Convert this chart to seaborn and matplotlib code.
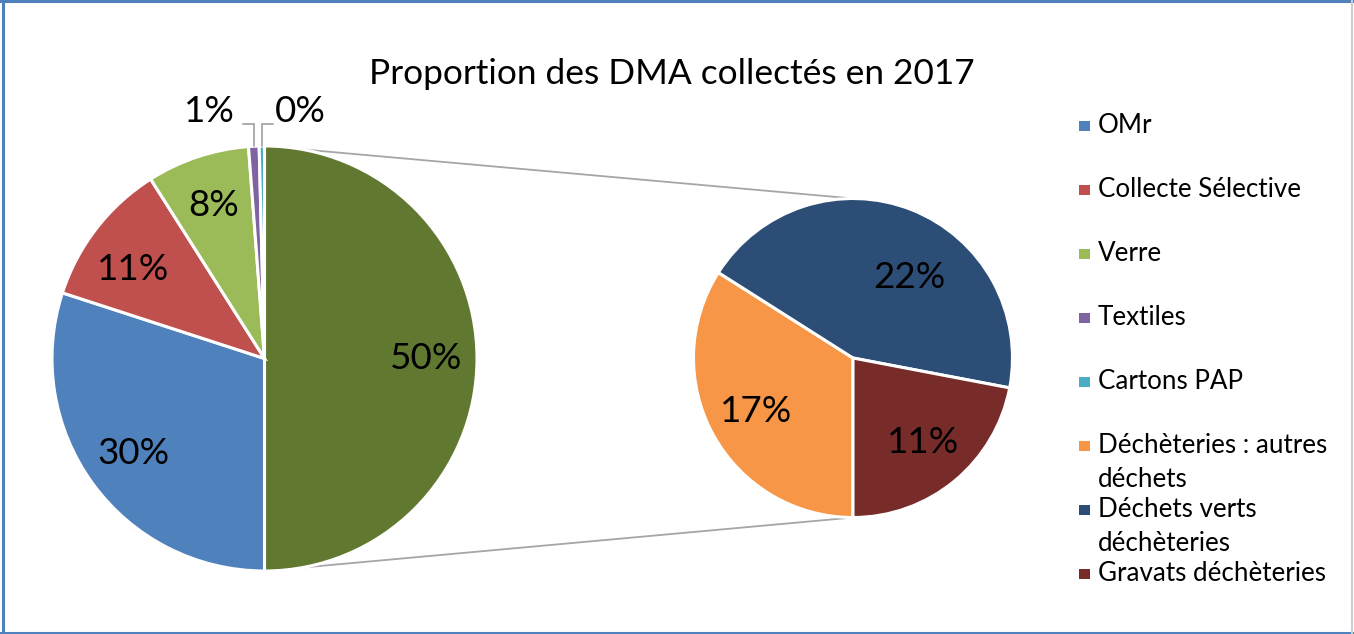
import matplotlib
matplotlib.use("Agg")
import matplotlib.pyplot as plt
import seaborn as sns
import numpy as np
from matplotlib.patches import Rectangle

# ---------------- data ----------------
main_categories = ["Déchèteries (total)", "OMr", "Collecte Sélective", "Verre", "Textiles", "Cartons PAP"]
main_values = [50.0, 30.0, 11.0, 7.8, 0.8, 0.4]
sub_categories = ["Déchèteries : autres déchets", "Déchets verts déchèteries", "Gravats déchèteries"]
sub_values = [17.0, 22.0, 11.0]
legend_labels = ["OMr", "Collecte Sélective", "Verre", "Textiles", "Cartons PAP",
                 "Déchèteries : autres\ndéchets", "Déchets verts\ndéchèteries", "Gravats déchèteries"]
title_text = "Proportion des DMA collectés en 2017"

# ---------------- style ----------------
main_colors = ["#617830", "#4F81BD", "#C0504D", "#9BBB59", "#8064A2", "#4BACC6"]
sub_colors = ["#F79646", "#2C4D75", "#772C2A"]
legend_colors = main_colors[1:] + sub_colors

W, H = 1354, 634
sns.set_theme(style="white")
plt.rcParams["font.family"] = ["Lato", "DejaVu Sans"]

fig = plt.figure(figsize=(W / 100, H / 100), dpi=100)
fig.patch.set_facecolor("white")
ax = fig.add_axes([0, 0, 1, 1])


def Y(y):
    return H - y


def fit_size(text, target_px, base=20.0):
    t = fig.text(0, 0, text, fontsize=base)
    r = fig.canvas.get_renderer()
    w = t.get_window_extent(r).width
    t.remove()
    return base * target_px / w


pct_fs = fit_size("50%", 72)
title_fs = fit_size(title_text, 606)
leg_fs = fit_size("Collecte Sélective", 204)

total = sum(main_values)
sub_total = sum(sub_values)

main_c = (264.5, Y(358.5))
main_r = 212.5
sub_c = (853.0, Y(358.0))
sub_r = 159.5
wedge_kw = dict(edgecolor="white", linewidth=2.2)

# connector lines (behind pies)
ax.plot([main_c[0], sub_c[0]], [main_c[1] + main_r, sub_c[1] + sub_r],
        color="#A6A6A6", lw=1.3, zorder=0, solid_capstyle="butt")
ax.plot([main_c[0], sub_c[0]], [main_c[1] - main_r, sub_c[1] - sub_r],
        color="#A6A6A6", lw=1.3, zorder=0, solid_capstyle="butt")

mw, mt, ma = ax.pie(main_values, colors=main_colors, startangle=90, counterclock=False,
                    center=main_c, radius=main_r, autopct=lambda p: f"{p:.0f}%",
                    pctdistance=0.76, wedgeprops=wedge_kw, frame=True,
                    textprops=dict(fontsize=pct_fs, color="black"))
for t in mt:
    t.set_visible(False)

sw, st, sa = ax.pie(sub_values, colors=sub_colors, startangle=-90, counterclock=False,
                    center=sub_c, radius=sub_r,
                    autopct=lambda p: f"{p * sub_total / total:.0f}%",
                    pctdistance=0.69, wedgeprops=wedge_kw, frame=True,
                    textprops=dict(fontsize=pct_fs, color="black"))
for t in st:
    t.set_visible(False)

# Excel "best fit" nudges
x, y = sa[1].get_position()
sa[1].set_position((x + 16, y - 22))
x, y = ma[2].get_position()
ma[2].set_position((x - 4, y - 10))

# tiny slices: labels outside with elbow leader lines
small = [i for i, v in enumerate(main_values) if v < 1]
for k, i in enumerate(small):
    w = mw[i]
    th = np.deg2rad((w.theta1 + w.theta2) / 2)
    px = main_c[0] + main_r * np.cos(th)
    py = main_c[1] + main_r * np.sin(th)
    side = -1 if k == 0 else 1
    ly = py + 22
    ex = px + side * 11
    ax.plot([px, px, ex], [py, ly, ly], color="#A6A6A6", lw=1.3, zorder=3,
            solid_joinstyle="miter")
    lab = ma[i]
    lab.set_position((ex + side * (8 if side < 0 else 2), ly + 13))
    lab.set_ha("right" if side < 0 else "left")
    lab.set_va("center")

ax.set_xlim(0, W)
ax.set_ylim(0, H)
ax.set_aspect("equal")
ax.axis("off")

# title
ax.text(672, Y(84), title_text, ha="center", va="baseline", fontsize=title_fs, color="black")

# legend (Excel-like: fixed row pitch, wrapped labels)
first_base = 133
step = 64.0
pitch = 34.0
for i, (lab, col) in enumerate(zip(legend_labels, legend_colors)):
    base = first_base + i * step
    ax.add_patch(Rectangle((1079, Y(base - 2)), 10.5, 10.5, facecolor=col,
                           edgecolor="none", zorder=4))
    for k, line in enumerate(lab.split("\n")):
        ax.text(1098, Y(base + k * pitch), line, ha="left", va="baseline",
                fontsize=leg_fs, color="black")

# chart frame
blue = "#4F81BD"
ax.plot([0, W], [H - 1, H - 1], color=blue, lw=2.2, clip_on=False)
ax.plot([2.5, 2.5], [0, H], color=blue, lw=2.2, clip_on=False)
ax.plot([0, W], [1, 1], color=blue, lw=2.2, clip_on=False)
ax.plot([W - 2, W - 2], [0, H], color="#C8CDD6", lw=1.5, clip_on=False)

fig.savefig("out.png", dpi=100, facecolor="white")
